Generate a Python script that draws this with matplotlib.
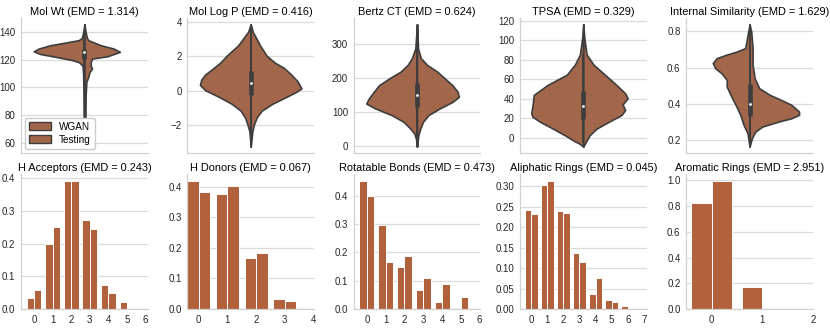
import numpy as np
import matplotlib
matplotlib.use("Agg")
import matplotlib.pyplot as plt
from matplotlib.patches import Patch

plt.rcParams['font.family'] = ['Liberation Sans', 'DejaVu Sans']

BAR_C = "#b1623d"
VIO_C = "#a2674a"
EDGE_C = "#3d3d3d"

# ---- violin half-profiles (y level, half width), left = WGAN, right = Testing
MW_Y_L = [146, 140, 136, 134.4, 130.7, 128.3, 126.3, 124.4, 122, 120, 118.5, 116, 110, 100, 80, 57]
MW_W_L = [0, 0.01, 0.02, 0.045, 0.27, 0.36, 0.40, 0.35, 0.21, 0.10, 0.045, 0.015, 0.01, 0.008, 0.006, 0]
MW_Y_R = [146, 140, 136, 134.4, 130.7, 128.3, 125.9, 122.7, 121, 118.5, 116, 113.7, 111.2, 107.6, 104, 95, 80, 60, 57]
MW_W_R = [0, 0.01, 0.02, 0.03, 0.13, 0.23, 0.28, 0.18, 0.06, 0.05, 0.05, 0.06, 0.04, 0.03, 0.015, 0.01, 0.008, 0.005, 0]
MW_BOX = [112, 121, 126, 128.3, 140]

LP_Y_L = [3.88, 3.44, 2.64, 2.04, 1.64, 1.34, 0.94, 0.64, 0.34, 0.04, -0.36, -0.76, -1.16, -1.56, -1.96, -2.36, -3.26]
LP_W_L = [0, 0.02, 0.10, 0.19, 0.24, 0.29, 0.36, 0.39, 0.40, 0.36, 0.25, 0.15, 0.08, 0.045, 0.026, 0.01, 0]
LP_Y_R = [3.88, 3.44, 2.64, 2.04, 1.64, 1.34, 0.94, 0.54, 0.14, -0.06, -0.36, -0.76, -1.16, -1.56, -1.96, -2.36, -3.26]
LP_W_R = [0, 0.016, 0.074, 0.126, 0.19, 0.26, 0.32, 0.37, 0.40, 0.36, 0.28, 0.17, 0.087, 0.047, 0.026, 0.013, 0]
LP_BOX = [-2.3, -0.26, 0.44, 1.14, 3.2]

BZ_Y_L = [358, 287, 258, 238, 218, 198, 178, 159, 139, 124, 110, 90, 70, 50, 35, 20, -3]
BZ_W_L = [0, 0.013, 0.04, 0.074, 0.13, 0.22, 0.30, 0.34, 0.38, 0.40, 0.33, 0.20, 0.105, 0.052, 0.02, 0.008, 0]
BZ_Y_R = [358, 287, 258, 238, 218, 198, 178, 159, 144, 129, 110, 90, 70, 50, 30, -3]
BZ_W_R = [0, 0.008, 0.03, 0.08, 0.16, 0.22, 0.28, 0.32, 0.33, 0.28, 0.18, 0.09, 0.047, 0.026, 0.01, 0]
BZ_BOX = [20, 114, 149, 184, 285]

TP_Y_L = [116.5, 102.7, 85.5, 75, 64.6, 54.2, 43.8, 33.4, 24.8, 21.3, 16.1, 9.2, 2.3, -2.9, -6.3, -9.4]
TP_W_L = [0, 0.008, 0.026, 0.066, 0.13, 0.28, 0.39, 0.40, 0.41, 0.40, 0.34, 0.24, 0.145, 0.08, 0.03, 0]
TP_Y_R = [116.5, 102.7, 85.5, 75, 64.6, 54.2, 45.5, 40.3, 34.1, 28.2, 23, 16.1, 9.2, 2.3, -4.6, -9.4]
TP_W_R = [0, 0.008, 0.026, 0.08, 0.17, 0.26, 0.33, 0.35, 0.31, 0.33, 0.30, 0.20, 0.105, 0.05, 0.02, 0]
TP_BOX = [-5, 19, 32.9, 48, 85]

IS_Y_L = [0.84, 0.708, 0.689, 0.67, 0.652, 0.625, 0.596, 0.568, 0.532, 0.495, 0.449, 0.394, 0.339, 0.283, 0.237, 0.163]
IS_W_L = [0, 0.034, 0.10, 0.19, 0.26, 0.29, 0.27, 0.22, 0.18, 0.18, 0.15, 0.11, 0.073, 0.047, 0.016, 0]
IS_Y_R = [0.84, 0.80, 0.708, 0.615, 0.541, 0.486, 0.449, 0.421, 0.394, 0.357, 0.339, 0.32, 0.302, 0.274, 0.246, 0.209, 0.163]
IS_W_R = [0, 0.013, 0.024, 0.024, 0.04, 0.076, 0.16, 0.25, 0.33, 0.39, 0.39, 0.33, 0.23, 0.10, 0.045, 0.018, 0]
IS_BOX = [0.2, 0.33, 0.398, 0.508, 0.72]

VIO_TITLES = ["Mol Wt (EMD = 1.314)", "Mol Log P (EMD = 0.416)", "Bertz CT (EMD = 0.624)",
              "TPSA (EMD = 0.329)", "Internal Similarity (EMD = 1.629)"]
VIO_TICKS = [[60, 80, 100, 120, 140], [-2, 0, 2, 4], [0, 100, 200, 300],
             [0, 20, 40, 60, 80, 100, 120], [0.2, 0.4, 0.6, 0.8]]

# ---- bar data: fraction per count, WGAN vs Testing
HA_WGAN = [0.035, 0.198, 0.392, 0.272, 0.074, 0.021]
HA_TEST = [0.057, 0.251, 0.392, 0.244, 0.049, 0.0]
HD_WGAN = [0.419, 0.376, 0.167, 0.033]
HD_TEST = [0.381, 0.403, 0.183, 0.027]
RB_WGAN = [0.453, 0.297, 0.149, 0.066, 0.026, 0.002]
RB_TEST = [0.400, 0.166, 0.187, 0.109, 0.087, 0.044]
AL_WGAN = [0.243, 0.303, 0.240, 0.137, 0.037, 0.023, 0.008]
AL_TEST = [0.233, 0.314, 0.234, 0.116, 0.075, 0.017, 0.003]
AR_WGAN = [0.826, 0.168]
AR_TEST = [0.997, 0.0]

BAR_TITLES = ["H Acceptors (EMD = 0.243)", "H Donors (EMD = 0.067)", "Rotatable Bonds (EMD = 0.473)",
              "Aliphatic Rings (EMD = 0.045)", "Aromatic Rings (EMD = 2.951)"]
BAR_XTICKS = [range(7), range(5), range(7), range(8), range(3)]
BAR_XLIM = [(-0.7, 6.12), (-0.4, 4.02), (-0.71, 6.04), (-0.7, 7.17), (-0.5, 2.0)]
BAR_YTICKS = [[0, 0.1, 0.2, 0.3, 0.4], [0, 0.1, 0.2, 0.3, 0.4], [0, 0.1, 0.2, 0.3, 0.4],
              [0, 0.05, 0.10, 0.15, 0.20, 0.25, 0.30], [0, 0.2, 0.4, 0.6, 0.8, 1.0]]
BAR_FMT = ["%.1f", "%.1f", "%.1f", "%.2f", "%.1f"]

TITLE_FS = 7.9


def style(ax):
    ax.grid(axis="y", color=".86", lw=0.9)
    ax.grid(axis="x", visible=False)
    ax.set_axisbelow(True)
    for s in ("top", "right"):
        ax.spines[s].set_visible(False)
    for s in ("left", "bottom"):
        ax.spines[s].set_color(".82")
        ax.spines[s].set_linewidth(0.9)
    ax.tick_params(length=0, labelsize=7, colors=".15", pad=4)


def violin(ax, yl, wl, yr, wr, box):
    ax.fill_betweenx(yl, -np.array(wl), 0, facecolor=VIO_C, edgecolor=EDGE_C, lw=1.2, zorder=2)
    ax.fill_betweenx(yr, 0, np.array(wr), facecolor=VIO_C, edgecolor=EDGE_C, lw=1.2, zorder=2)
    lo, q1, med, q3, hi = box
    ax.plot([0, 0], [lo, hi], color=EDGE_C, lw=1.3, zorder=3)
    ax.plot([0, 0], [q1, q3], color=EDGE_C, lw=3.3, solid_capstyle="butt", zorder=3)
    ax.scatter([0], [med], s=4, c="white", zorder=4, linewidths=0)
    ax.set_xlim(-0.5, 0.5)
    ax.set_xticks([])


fig, axes = plt.subplots(2, 5, figsize=(8.3, 3.29), dpi=100)
fig.subplots_adjust(left=0.0253, right=0.9795, bottom=0.0608, top=0.945, wspace=0.311, hspace=0.16)

vio = [(MW_Y_L, MW_W_L, MW_Y_R, MW_W_R, MW_BOX), (LP_Y_L, LP_W_L, LP_Y_R, LP_W_R, LP_BOX),
       (BZ_Y_L, BZ_W_L, BZ_Y_R, BZ_W_R, BZ_BOX), (TP_Y_L, TP_W_L, TP_Y_R, TP_W_R, TP_BOX),
       (IS_Y_L, IS_W_L, IS_Y_R, IS_W_R, IS_BOX)]
for ax, v, title, ticks in zip(axes[0], vio, VIO_TITLES, VIO_TICKS):
    style(ax)
    violin(ax, *v)
    ax.set_yticks(ticks)
    ax.set_title(title, fontsize=TITLE_FS, pad=2.5)

axes[0, 0].legend(handles=[Patch(facecolor=VIO_C, edgecolor=EDGE_C, lw=1.0, label="WGAN"),
                           Patch(facecolor=VIO_C, edgecolor=EDGE_C, lw=1.0, label="Testing")],
                  loc="lower left", fontsize=7.2, framealpha=1, edgecolor=".8",
                  handlelength=2.2, handleheight=0.8, borderaxespad=0.4, labelspacing=0.3)

bars = [(HA_WGAN, HA_TEST), (HD_WGAN, HD_TEST), (RB_WGAN, RB_TEST), (AL_WGAN, AL_TEST), (AR_WGAN, AR_TEST)]
for i, (ax, (w, t)) in enumerate(zip(axes[1], bars)):
    style(ax)
    x = np.arange(len(w))
    ax.bar(x - 0.2, w, width=0.4, color=BAR_C, edgecolor="white", lw=0.7, zorder=2)
    ax.bar(x + 0.2, t, width=0.4, color=BAR_C, edgecolor="white", lw=0.7, zorder=2)
    ax.set_xticks(list(BAR_XTICKS[i]))
    ax.set_xlim(*BAR_XLIM[i])
    ax.set_yticks(BAR_YTICKS[i])
    ax.set_yticklabels([BAR_FMT[i] % v for v in BAR_YTICKS[i]])
    ax.set_ylim(0, max(max(w), max(t)) * 1.05)
    ax.set_title(BAR_TITLES[i], fontsize=TITLE_FS, pad=2.5)

fig.savefig("out.png", dpi=100)
